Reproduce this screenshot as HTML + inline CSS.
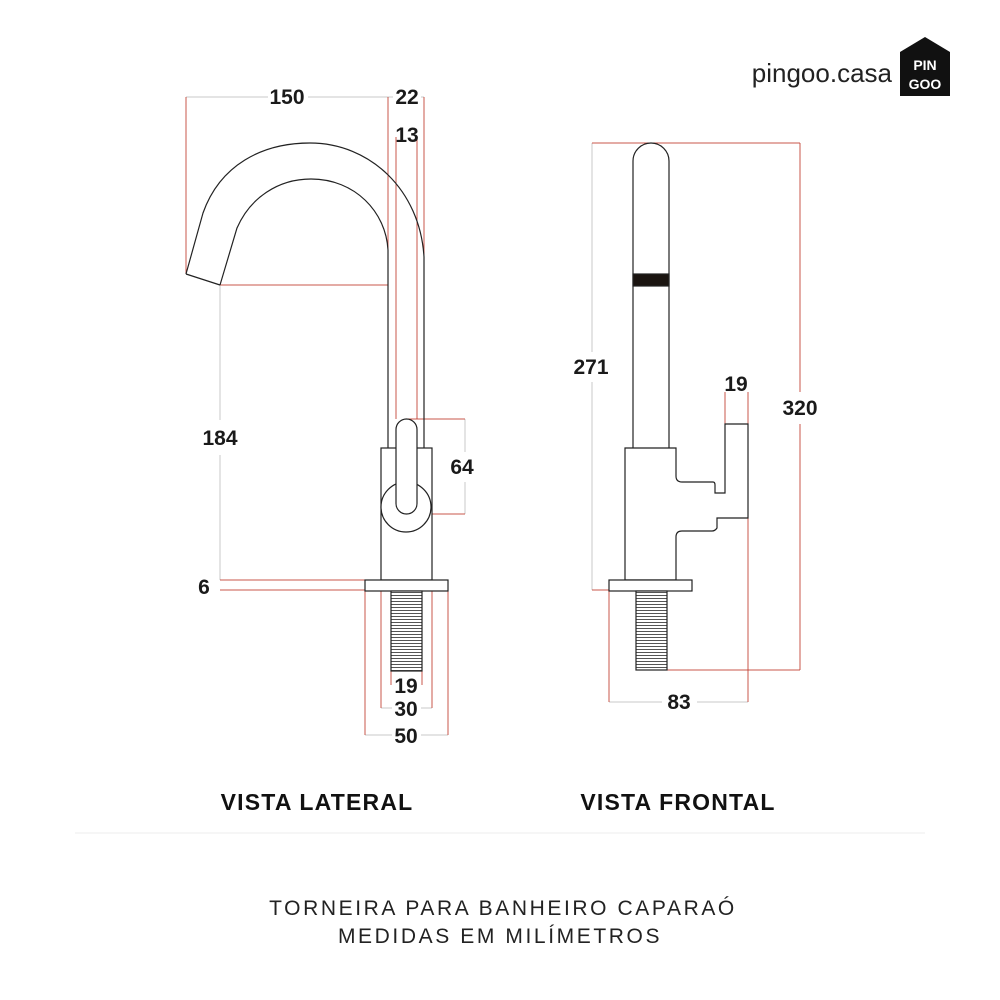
<!DOCTYPE html>
<html><head><meta charset="utf-8"><style>
html,body{margin:0;padding:0;background:#fff}
svg{display:block}
text{font-family:"Liberation Sans",sans-serif}
.n{font-size:21px;font-weight:bold;fill:#1a1a1a;text-anchor:middle}
</style></head><body>
<svg width="1000" height="1000" viewBox="0 0 1000 1000" xmlns="http://www.w3.org/2000/svg">
<defs>
<pattern id="thr" width="4" height="3" patternUnits="userSpaceOnUse">
<rect width="4" height="3" fill="#fff"/><line x1="0" y1="1.5" x2="4" y2="1.5" stroke="#555" stroke-width="1"/>
</pattern>
</defs>
<g fill="none" stroke-width="1">
<g stroke="#c8c8c8">
<line x1="186" y1="97" x2="268" y2="97"/><line x1="308" y1="97" x2="388" y2="97"/>
<line x1="388" y1="97" x2="393" y2="97"/><line x1="421" y1="97" x2="424" y2="97"/>
<line x1="220" y1="285" x2="220" y2="420"/><line x1="220" y1="455" x2="220" y2="580"/>
<line x1="465" y1="419" x2="465" y2="452"/><line x1="465" y1="482" x2="465" y2="514"/>
<line x1="365" y1="735" x2="392" y2="735"/><line x1="421" y1="735" x2="448" y2="735"/>
<line x1="381" y1="708" x2="392" y2="708"/><line x1="421" y1="708" x2="432" y2="708"/>
<line x1="592" y1="143" x2="592" y2="352"/><line x1="592" y1="382" x2="592" y2="590"/>
<line x1="609" y1="702" x2="662" y2="702"/><line x1="697" y1="702" x2="748" y2="702"/>
</g>
<g stroke="#c0392b" stroke-opacity="0.85">
<line x1="186" y1="97" x2="186" y2="274"/>
<line x1="388" y1="97" x2="388" y2="250"/>
<line x1="424" y1="97" x2="424" y2="257"/>
<line x1="396" y1="137" x2="396" y2="419"/>
<line x1="417" y1="137" x2="417" y2="419"/>
<line x1="220" y1="285" x2="388" y2="285"/>
<line x1="405" y1="419" x2="465" y2="419"/>
<line x1="405" y1="514" x2="465" y2="514"/>
<line x1="220" y1="580" x2="365" y2="580"/>
<line x1="220" y1="590" x2="365" y2="590"/>
<line x1="391" y1="671" x2="391" y2="685"/><line x1="422" y1="671" x2="422" y2="685"/>
<line x1="381" y1="591" x2="381" y2="708"/><line x1="432" y1="591" x2="432" y2="708"/>
<line x1="365" y1="591" x2="365" y2="735"/><line x1="448" y1="591" x2="448" y2="735"/>
<line x1="592" y1="143" x2="800" y2="143"/>
<line x1="800" y1="143" x2="800" y2="392"/><line x1="800" y1="424" x2="800" y2="670"/>
<line x1="667" y1="670" x2="800" y2="670"/>
<line x1="592" y1="590" x2="609" y2="590"/>
<line x1="609" y1="591" x2="609" y2="702"/>
<line x1="748" y1="392" x2="748" y2="702"/>
<line x1="725" y1="392" x2="725" y2="424"/>
</g>
<g stroke="#222" stroke-width="1.2">
<path d="M186,274 L203,213 C220,165 262,143 310,143 C370,143 420,190 424,257 L424,448"/>
<path d="M220,285 L237,228 C250,198 278,179 311,179 C355,179 386,212 388,250 L388,448"/>
<line x1="186" y1="274" x2="220" y2="285"/>
<rect x="381" y="448" width="51" height="132" fill="#fff"/>
<circle cx="406" cy="507" r="25" fill="#fff"/>
<rect x="396" y="419" width="21" height="95" rx="10.5" fill="#fff"/>
<rect x="365" y="580" width="83" height="11" fill="#fff"/>
<rect x="391" y="591" width="31" height="80" fill="url(#thr)"/>
</g>
<g stroke="#222" stroke-width="1.2">
<path d="M633,448 L633,161 A18,18 0 0 1 669,161 L669,448" fill="#fff"/>
<rect x="633" y="274" width="36" height="12" fill="#1a1410"/>
<path d="M625,448 L676,448 L676,476 Q676,482 682,482 L713,482 Q715,482 715,485 L715,493 L725,493 L725,424 L748,424 L748,518 L717,518 L717,528 Q715,531 712,531 L682,531 Q676,531 676,537 L676,580 L625,580 Z" fill="#fff"/>
<rect x="609" y="580" width="83" height="11" fill="#fff"/>
<rect x="636" y="591" width="31" height="79" fill="url(#thr)"/>
</g>
</g>
<text class="n" x="287" y="104">150</text>
<text class="n" x="407" y="104">22</text>
<text class="n" x="407" y="142">13</text>
<text class="n" x="220" y="445">184</text>
<text class="n" x="462" y="474">64</text>
<text class="n" x="204" y="594">6</text>
<text class="n" x="406" y="693">19</text>
<text class="n" x="406" y="716">30</text>
<text class="n" x="406" y="743">50</text>
<text class="n" x="591" y="374">271</text>
<text class="n" x="736" y="391">19</text>
<text class="n" x="800" y="415">320</text>
<text class="n" x="679" y="709">83</text>
<text x="317" y="810" font-size="23" font-weight="bold" text-anchor="middle" fill="#111" letter-spacing="1.2">VISTA LATERAL</text>
<text x="678" y="810" font-size="23" font-weight="bold" text-anchor="middle" fill="#111" letter-spacing="1.2">VISTA FRONTAL</text>
<line x1="75" y1="833" x2="925" y2="833" stroke="#eee"/>
<text x="503" y="915" font-size="21" text-anchor="middle" fill="#222" letter-spacing="2.6">TORNEIRA PARA BANHEIRO CAPARAÓ</text>
<text x="500" y="943" font-size="21" text-anchor="middle" fill="#222" letter-spacing="2.6">MEDIDAS EM MILÍMETROS</text>
<text x="892" y="82" font-size="26" text-anchor="end" fill="#222">pingoo.casa</text>
<path d="M900,95 L900,52 L925,37 L950,52 L950,96 L900,96 Z" fill="#111"/>
<text x="925" y="70" font-size="14" font-weight="bold" text-anchor="middle" fill="#fff">PIN</text>
<text x="925" y="89" font-size="14" font-weight="bold" text-anchor="middle" fill="#fff">GOO</text>
</svg>
</body></html>
